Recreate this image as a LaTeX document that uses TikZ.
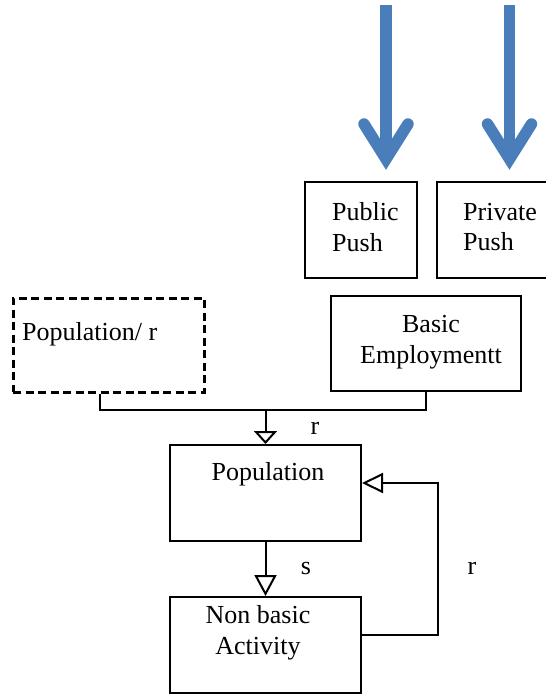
\documentclass[tikz,border=0pt]{standalone}
\usepackage{fontspec}
\setmainfont{Liberation Serif}
\usetikzlibrary{arrows.meta}
\definecolor{pushblue}{RGB}{74,126,187}
\tikzset{
  box/.style={draw, line width=2pt, rectangle, inner sep=0pt, minimum width=191pt, minimum height=96pt},
  smallbox/.style={box, minimum width=112pt},
  dashbox/.style={box, line width=3pt, dash pattern=on 8pt off 4.5pt},
  txt/.style={font=\fontsize{26}{30.5}\selectfont, inner sep=0pt},
  lbl/.style={font=\fontsize{26}{30.5}\selectfont, inner sep=0pt},
  conn/.style={line width=2pt},
  bluearrow/.style={draw=pushblue, line width=11.5pt},
}
\begin{document}
\begin{tikzpicture}[x=1pt,y=-1pt]
\useasboundingbox (0,0) rectangle (546,694);
% boxes
\node[smallbox] (pub) at (361,230) {};
\node[smallbox] (priv) at (493,230) {};
\node[dashbox, minimum height=94pt] (popr) at (108.5,345) {};
\node[box, minimum width=190pt, minimum height=95pt] (basic) at (426,343.5) {};
\node[box] (pop) at (265.5,493) {};
\node[box] (nb) at (265.5,645) {};
% texts
\node[txt, anchor=west, align=left] (pubt) at (332,227) {Public\\Push};
\node[txt, anchor=west, align=left] (privt) at (463,227) {Private\\Push};
\node[txt, anchor=west] (poprt) at (22,334) {Population/ r};
\node[txt, align=center] (basict) at (431,342) {Basic\\Employmentt};
\node[txt] (popt) at (268,474) {Population};
\node[txt, align=center] (nbt) at (258,633) {Non basic\\Activity};
\node[lbl] (r1) at (315,428) {r};
\node[lbl] (s1) at (306,568) {s};
\node[lbl] (r2) at (472,568) {r};
% blue push arrows
\coordinate (pa0) at (386,5);
\coordinate (pa1) at (386,159);
\coordinate (pal) at (364,124);
\coordinate (par) at (408,124);
\coordinate (qa0) at (509.5,5);
\coordinate (qa1) at (509.5,159);
\coordinate (qal) at (487.5,124);
\coordinate (qar) at (531.5,124);
\draw[bluearrow] (pa0) -- (pa1);
\draw[bluearrow, line cap=round, line join=miter] (pal) -- (pa1) -- (par);
\draw[bluearrow] (qa0) -- (qa1);
\draw[bluearrow, line cap=round, line join=miter] (qal) -- (qa1) -- (qar);
% connectors
\coordinate (j) at (265.5,410);
\draw[conn] ([xshift=-8.5pt]popr.south) |- (j) -| (basic.south);
\draw[conn, -{Triangle[open, length=13pt, width=23pt]}] (j) -- (pop.north);
\draw[conn, -{Triangle[open, length=21pt, width=22pt]}] (pop.south) -- (nb.north);
\draw[conn, -{Triangle[open, length=21pt, width=20pt]}] ([yshift=10pt]nb.east) -- ++(76,0) |- ([yshift=10pt]pop.east);
\end{tikzpicture}
\end{document}
